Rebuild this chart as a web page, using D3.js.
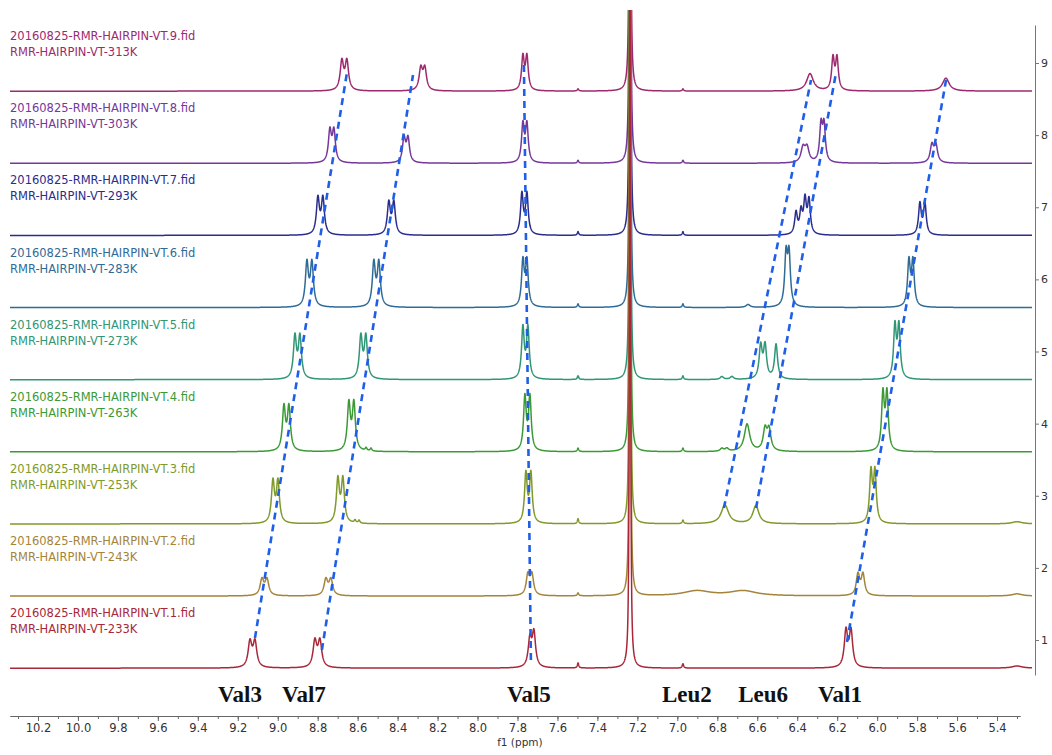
<!DOCTYPE html>
<html>
<head>
<meta charset="utf-8">
<script src="https://cdn.jsdelivr.net/npm/d3@7/dist/d3.min.js"></script>
<style>
  body { margin: 0; background: #fff; }
  svg { display: block; font-family: "DejaVu Sans", Verdana, sans-serif; }
</style>
</head>
<body>
<svg id="chart" width="1052" height="755"></svg>
<script>
// experiments, bottom (1) to top (9)
const expNo = [1, 2, 3, 4, 5, 6, 7, 8, 9];
const temps = ["233K", "243K", "253K", "263K", "273K", "283K", "293K", "303K", "313K"];
const traceColors = ["#a8283a", "#a3843a", "#7f9a2a", "#3b9a35", "#2f9676",
                     "#2f6b96", "#2a2d8c", "#74389a", "#9e2a6e"];

// peak tables: [ppm, height (axis units), half width (ppm)]
const solvent = [[7.237, 20, 0.002]];
const peaks233 = [
  [9.139, 0.35, 0.011], [9.114, 0.35, 0.011], [8.814, 0.36, 0.011], [8.789, 0.36, 0.011],
  [7.738, 0.38, 0.010], [7.718, 0.47, 0.010], [7.497, 0.07, 0.004], [6.972, 0.06, 0.004],
  [6.156, 0.50, 0.010], [6.131, 0.50, 0.010], [5.30, 0.03, 0.03]
];
const peaks243 = [
  [9.079, 0.22, 0.011], [9.054, 0.22, 0.011], [8.759, 0.22, 0.011], [8.734, 0.22, 0.011],
  [7.748, 0.28, 0.010], [7.728, 0.28, 0.010], [7.497, 0.04, 0.004],
  [6.902, 0.07, 0.08], [6.671, 0.07, 0.08],
  [6.096, 0.29, 0.010], [6.071, 0.29, 0.010], [5.30, 0.03, 0.03]
];
const peaks253 = [
  [9.024, 0.57, 0.009], [8.999, 0.57, 0.009], [8.699, 0.60, 0.009], [8.674, 0.60, 0.009],
  [8.613, 0.04, 0.005], [8.593, 0.04, 0.005], [7.758, 0.68, 0.008], [7.733, 0.68, 0.008],
  [7.497, 0.07, 0.004], [6.972, 0.05, 0.004], [6.762, 0.26, 0.022], [6.607, 0.25, 0.018],
  [6.031, 0.70, 0.008], [6.011, 0.70, 0.008], [5.30, 0.03, 0.03]
];
const peaks263 = [
  [8.969, 0.60, 0.009], [8.944, 0.60, 0.009], [8.644, 0.65, 0.009], [8.619, 0.65, 0.009],
  [8.558, 0.04, 0.005], [8.533, 0.04, 0.005], [7.763, 0.74, 0.008], [7.738, 0.74, 0.008],
  [7.497, 0.05, 0.004], [6.972, 0.05, 0.004], [6.777, 0.04, 0.010], [6.752, 0.04, 0.010],
  [6.651, 0.38, 0.016], [6.561, 0.29, 0.011], [6.541, 0.29, 0.011],
  [5.971, 0.78, 0.008], [5.951, 0.78, 0.008]
];
const peaks273 = [
  [8.914, 0.58, 0.009], [8.889, 0.58, 0.009], [8.584, 0.58, 0.009], [8.559, 0.58, 0.009],
  [7.773, 0.70, 0.008], [7.748, 0.70, 0.008], [7.497, 0.05, 0.004], [6.972, 0.05, 0.004],
  [6.777, 0.04, 0.010], [6.727, 0.04, 0.010],
  [6.583, 0.45, 0.009], [6.561, 0.45, 0.009], [6.506, 0.48, 0.009],
  [5.911, 0.72, 0.008], [5.891, 0.72, 0.008]
];
const peaks283 = [
  [8.854, 0.60, 0.009], [8.829, 0.60, 0.009], [8.519, 0.60, 0.009], [8.494, 0.60, 0.009],
  [7.773, 0.62, 0.008], [7.753, 0.62, 0.008], [7.497, 0.05, 0.004], [6.972, 0.05, 0.004],
  [6.646, 0.04, 0.012], [6.456, 0.70, 0.008], [6.441, 0.70, 0.008],
  [5.841, 0.62, 0.008], [5.821, 0.62, 0.008]
];
const peaks293 = [
  [8.799, 0.50, 0.009], [8.774, 0.50, 0.009], [8.444, 0.44, 0.009], [8.419, 0.44, 0.009],
  [7.778, 0.56, 0.008], [7.753, 0.56, 0.008], [7.497, 0.05, 0.004], [6.972, 0.05, 0.004],
  [6.406, 0.30, 0.008], [6.381, 0.30, 0.008], [6.361, 0.46, 0.008], [6.341, 0.46, 0.008],
  [5.786, 0.43, 0.008], [5.761, 0.43, 0.008]
];
const peaks303 = [
  [8.739, 0.43, 0.009], [8.719, 0.43, 0.009], [8.368, 0.33, 0.009], [8.348, 0.33, 0.009],
  [7.773, 0.52, 0.008], [7.753, 0.52, 0.008], [7.497, 0.04, 0.004], [6.972, 0.04, 0.004],
  [6.371, 0.20, 0.012], [6.351, 0.20, 0.012], [6.281, 0.50, 0.008], [6.266, 0.50, 0.008],
  [5.726, 0.24, 0.010], [5.706, 0.24, 0.010]
];
const peaks313 = [
  [8.679, 0.40, 0.010], [8.654, 0.40, 0.010], [8.284, 0.30, 0.010], [8.264, 0.30, 0.010],
  [7.773, 0.46, 0.008], [7.753, 0.46, 0.008], [7.497, 0.03, 0.004], [6.972, 0.03, 0.004],
  [6.336, 0.24, 0.020], [6.221, 0.44, 0.008], [6.201, 0.44, 0.008], [5.656, 0.18, 0.020]
];
const peakTables = [peaks233, peaks243, peaks253, peaks263, peaks273,
                    peaks283, peaks293, peaks303, peaks313];

// residue tracking lines: [ppm, axis value] at bottom and top
const residues = ["Val3", "Val7", "Val5", "Leu2", "Leu6", "Val1"];
const trackStart = [[9.114, 1.028], [8.779, 0.861], [7.733, 0.723], [6.767, 2.830], [6.606, 2.830], [6.151, 0.972]];
const trackEnd = [[8.653, 8.875], [8.323, 8.834], [7.768, 9.014], [6.331, 8.764], [6.206, 8.861], [5.655, 8.764]];
const residueLabelPpm = [9.189, 8.869, 7.743, 6.952, 6.571, 6.186];

const majorTicks = d3.range(102, 53, -2).map(d => d / 10);
const minorTicks = d3.range(103, 52, -1).map(d => d / 10);
const yTicks = [1, 2, 3, 4, 5, 6, 7, 8, 9];

const svg = d3.select("#chart");

const x = d3.scaleLinear().domain([10.34, 5.285]).range([10, 1020]);
const y = d3.scaleLinear().domain([0.515, 9.527]).range([675, 25]);
const baseOffset = 0.39;

// spectrum as sum of lorentzian lines
const ppmGrid = d3.range(10.34, 5.224, -0.001);
function spectrum(peaks) {
  return ppmGrid.map(p => [p, d3.sum(peaks, k => k[1] * k[2] * k[2] / ((p - k[0]) * (p - k[0]) + k[2] * k[2]))]);
}

svg.append("defs").append("clipPath").attr("id", "plotClip")
  .append("rect").attr("x", 0).attr("y", 10).attr("width", 1034).attr("height", 700);

const plot = svg.append("g").attr("clip-path", "url(#plotClip)");

// draw top trace first so the bottom one lies over the solvent spike
for (let i = expNo.length - 1; i >= 0; i--) {
  const base = expNo[i] - baseOffset;
  const data = spectrum(peakTables[i].concat(solvent));
  const line = d3.line()
    .x(d => x(d[0]))
    .y(d => y(base + d[1]));
  plot.append("path")
    .datum(data)
    .attr("fill", "none")
    .attr("stroke", traceColors[i])
    .attr("stroke-width", 1.5)
    .attr("stroke-linejoin", "round")
    .attr("d", line);
}

// trace labels
expNo.forEach((n, i) => {
  const yb = y(n - baseOffset);
  const g = svg.append("g").attr("fill", traceColors[i]).style("font-size", "11.5px");
  g.append("text").attr("x", 10).attr("y", yb - 51).text(`20160825-RMR-HAIRPIN-VT.${n}.fid`);
  g.append("text").attr("x", 10).attr("y", yb - 35).text(`RMR-HAIRPIN-VT-${temps[i]}`);
});

// dashed tracking lines
svg.append("g").selectAll("line")
  .data(residues)
  .join("line")
  .attr("x1", (d, i) => x(trackStart[i][0]))
  .attr("y1", (d, i) => y(trackStart[i][1]))
  .attr("x2", (d, i) => x(trackEnd[i][0]))
  .attr("y2", (d, i) => y(trackEnd[i][1]))
  .attr("stroke", "#1f5fe8")
  .attr("stroke-width", 2.6)
  .attr("stroke-dasharray", "7,5");

// residue labels
svg.append("g").selectAll("text")
  .data(residues)
  .join("text")
  .attr("x", (d, i) => x(residueLabelPpm[i]))
  .attr("y", 702)
  .attr("text-anchor", "middle")
  .style("font-family", "'Liberation Serif', 'Times New Roman', serif")
  .style("font-weight", "bold")
  .style("font-size", "23px")
  .attr("fill", "#111")
  .text(d => d);

// bottom ppm axis
const xAxisG = svg.append("g").attr("transform", "translate(0,716)");
xAxisG.append("g")
  .call(d3.axisBottom(x).tickValues(minorTicks).tickSize(3).tickSizeOuter(0).tickFormat(""));
xAxisG.append("g")
  .call(d3.axisBottom(x).tickValues(majorTicks).tickSize(5).tickSizeOuter(0).tickPadding(3).tickFormat(d3.format(".1f")));
xAxisG.selectAll("path, line").attr("stroke", "#666");
xAxisG.selectAll("text").attr("fill", "#333").style("font-size", "11.5px").style("font-family", "'DejaVu Sans', Verdana, sans-serif");

svg.append("text")
  .attr("x", x(7.788)).attr("y", 746)
  .attr("text-anchor", "middle")
  .attr("fill", "#333")
  .style("font-size", "10.5px")
  .text("f1 (ppm)");

// right stack axis
const yAxisG = svg.append("g").attr("transform", "translate(1035,0)")
  .call(d3.axisRight(y).tickValues(yTicks).tickSize(4).tickSizeOuter(0).tickPadding(2));
yAxisG.selectAll("path, line").attr("stroke", "#777");
yAxisG.selectAll("text").attr("fill", "#333").style("font-size", "11px").style("font-family", "'DejaVu Sans', Verdana, sans-serif");
</script>
</body>
</html>
